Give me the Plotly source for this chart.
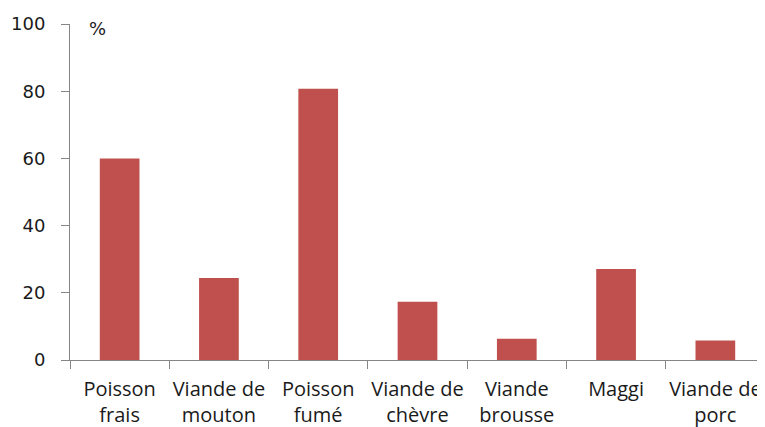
import plotly.graph_objects as go

categories = ["Poisson<br>frais", "Viande de<br>mouton", "Poisson<br>fumé", "Viande de<br>chèvre",
              "Viande<br>brousse", "Maggi", "Viande de<br>porc"]
values = [60, 24.4, 80.7, 17.3, 6.3, 27.1, 5.8]
y_ticks = [0, 20, 40, 60, 80, 100]

fig = go.Figure(go.Bar(x=categories, y=values, marker_color="#C0504D",
                       marker_line_width=0, width=0.4))

# page body has an 8px margin; figure sized so that it fills the 765x427 window
fig.update_layout(
    width=757, height=419,
    margin=dict(l=62, r=0, t=16, b=67),
    plot_bgcolor="white", paper_bgcolor="white",
    showlegend=False,
)
fig.update_yaxes(range=[0, 100], tickvals=y_ticks, showgrid=False, zeroline=False,
                 showline=True, linecolor="#868686", linewidth=1,
                 ticks="outside", ticklen=8, tickcolor="#868686",
                 tickfont=dict(family="DejaVu Sans", size=18, color="#1a1a1a"),
                 ticklabelstandoff=12, automargin=False)
fig.update_xaxes(range=[-0.5, 6.5], showgrid=False, showline=True, linecolor="#868686",
                 linewidth=1, ticks="outside", ticklen=8, tickcolor="#868686",
                 tickson="boundaries", automargin=False, ticklabelstandoff=11,
                 tickangle=0,
                 tickfont=dict(family="Open Sans", size=20, color="#1a1a1a"))
fig.add_annotation(text="%", xref="paper", yref="paper", x=0.024, y=0.988,
                   xanchor="left", yanchor="middle", showarrow=False,
                   font=dict(family="DejaVu Sans", size=18, color="#1a1a1a"))

fig.write_html("out.html")
